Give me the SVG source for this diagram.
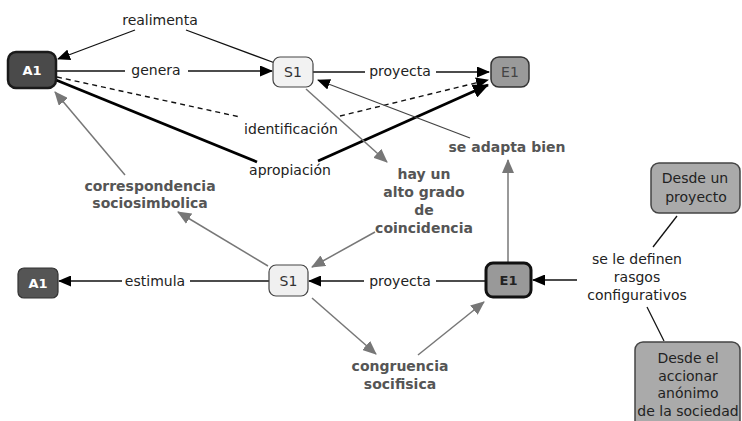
<svg xmlns="http://www.w3.org/2000/svg" width="742" height="421" viewBox="0 0 742 421">
<style>
text{font-family:"DejaVu Sans",Verdana,sans-serif;font-size:14px;text-anchor:middle;fill:#222}
.b{font-weight:bold;fill:#555}
.w{font-weight:bold;fill:#fff;font-size:13px}
.k{stroke:#111;stroke-width:1.3;fill:none}
.g{stroke:#777;stroke-width:1.5;fill:none}
.t{stroke:#000;stroke-width:2.8;fill:none}
.d{stroke:#111;stroke-width:1.4;fill:none;stroke-dasharray:5,4}
</style>
<defs>
<marker id="ak" markerUnits="userSpaceOnUse" markerWidth="13" markerHeight="11" refX="12" refY="5.5" orient="auto"><path d="M0,0 L13,5.5 L0,11 z" fill="#000"/></marker>
<marker id="ag" markerUnits="userSpaceOnUse" markerWidth="14" markerHeight="12" refX="13" refY="6" orient="auto"><path d="M0,0 L14,6 L0,12 z" fill="#777"/></marker>
<marker id="at" markerUnits="userSpaceOnUse" markerWidth="16" markerHeight="14" refX="15" refY="7" orient="auto"><path d="M0,0 L16,7 L0,14 z" fill="#000"/></marker>
</defs>
<rect width="742" height="421" fill="#fff"/>
<g id="connectors">
<line class="k" x1="135" y1="30" x2="58" y2="59" marker-end="url(#ak)"/>
<line class="k" x1="186" y1="30" x2="275" y2="63"/>
<line class="k" x1="57" y1="71" x2="125" y2="71"/>
<line class="k" x1="188" y1="71" x2="272" y2="71" marker-end="url(#ak)"/>
<line class="k" x1="313" y1="72" x2="365" y2="72"/>
<line class="k" x1="436" y1="72" x2="489" y2="72" marker-end="url(#ak)"/>
<line class="d" x1="57" y1="77" x2="240" y2="117"/>
<line class="d" x1="340" y1="116" x2="488" y2="80" marker-end="url(#ak)"/>
<line class="t" x1="56" y1="80" x2="257" y2="162"/>
<line class="t" x1="318" y1="161" x2="488" y2="85" marker-end="url(#at)"/>
<line class="g" x1="306" y1="89" x2="387" y2="162" marker-end="url(#ag)"/>
<line class="k" x1="470" y1="138" x2="318" y2="80" marker-end="url(#ak)" style="stroke:#444"/>
<line class="g" x1="508" y1="263" x2="508" y2="160" marker-end="url(#ag)"/>
<line class="g" x1="125" y1="175" x2="55" y2="92" marker-end="url(#ag)"/>
<line class="g" x1="268" y1="266" x2="178" y2="212" marker-end="url(#ag)"/>
<line class="k" x1="269" y1="281" x2="190" y2="281"/>
<line class="k" x1="122" y1="281" x2="59" y2="281" marker-end="url(#ak)"/>
<line class="k" x1="486" y1="281" x2="436" y2="281"/>
<line class="k" x1="364" y1="281" x2="309" y2="281" marker-end="url(#ak)"/>
<line class="g" x1="375" y1="232" x2="312" y2="267" marker-end="url(#ag)"/>
<line class="g" x1="312" y1="298" x2="376" y2="354" marker-end="url(#ag)"/>
<line class="g" x1="418" y1="355" x2="484" y2="302" marker-end="url(#ag)"/>
<line class="k" x1="577" y1="280" x2="533" y2="280" marker-end="url(#ak)"/>
<line class="k" x1="677" y1="216" x2="653" y2="247"/>
<line class="k" x1="647" y1="307" x2="664" y2="341"/>
</g>
<g id="labels">
<text x="160" y="25">realimenta</text>
<text x="156" y="75">genera</text>
<text x="400" y="76">proyecta</text>
<text x="291" y="134">identificación</text>
<text x="290" y="175">apropiación</text>
<text class="b" x="424" y="179">hay un</text>
<text class="b" x="424" y="197">alto grado</text>
<text class="b" x="424" y="215">de</text>
<text class="b" x="424" y="233">coincidencia</text>
<text class="b" x="507" y="152">se adapta bien</text>
<text class="b" x="150" y="191">correspondencia</text>
<text class="b" x="150" y="208">sociosimbolica</text>
<text x="155" y="286">estimula</text>
<text x="400" y="286">proyecta</text>
<text class="b" x="400" y="371">congruencia</text>
<text class="b" x="400" y="389">socifisica</text>
<text x="637" y="264">se le definen</text>
<text x="637" y="282">rasgos</text>
<text x="637" y="300">configurativos</text>
</g>
<g id="A1-top"><rect x="8" y="52" width="48" height="36" rx="8" fill="#4a4a4a" stroke="#1a1a1a" stroke-width="2.5"/><text class="w" x="32" y="75">A1</text></g>
<g id="S1-top"><rect x="273" y="57" width="40" height="30" rx="7" fill="#f2f2f2" stroke="#444" stroke-width="1.2"/><text x="293" y="77" style="fill:#333">S1</text></g>
<g id="E1-top"><rect x="491" y="57" width="38" height="30" rx="8" fill="#9a9a9a" stroke="#333" stroke-width="1.5"/><text x="510" y="77" style="fill:#444">E1</text></g>
<g id="A1-bottom"><rect x="18" y="268" width="40" height="30" rx="6" fill="#555" stroke="#333" stroke-width="1.2"/><text class="w" x="38" y="288">A1</text></g>
<g id="S1-bottom"><rect x="269" y="265" width="39" height="31" rx="7" fill="#f0f0f0" stroke="#444" stroke-width="1.2"/><text x="288.5" y="286" style="fill:#333">S1</text></g>
<g id="E1-bottom"><rect x="486" y="263" width="45" height="34" rx="7" fill="#999" stroke="#111" stroke-width="3"/><text x="508.5" y="285" style="font-weight:bold;font-size:13px;fill:#222">E1</text></g>
<g id="desde-proyecto"><rect x="651" y="163" width="89" height="50" rx="8" fill="#aaa" stroke="#444" stroke-width="1.5"/><text x="695" y="183">Desde un</text><text x="696" y="202">proyecto</text></g>
<g id="desde-accionar"><rect x="635" y="342" width="105" height="90" rx="8" fill="#aaa" stroke="#444" stroke-width="1.5"/><text x="688" y="363">Desde el</text><text x="688" y="381">accionar</text><text x="688" y="398">anónimo</text><text x="688" y="416">de la sociedad</text></g>
</svg>
